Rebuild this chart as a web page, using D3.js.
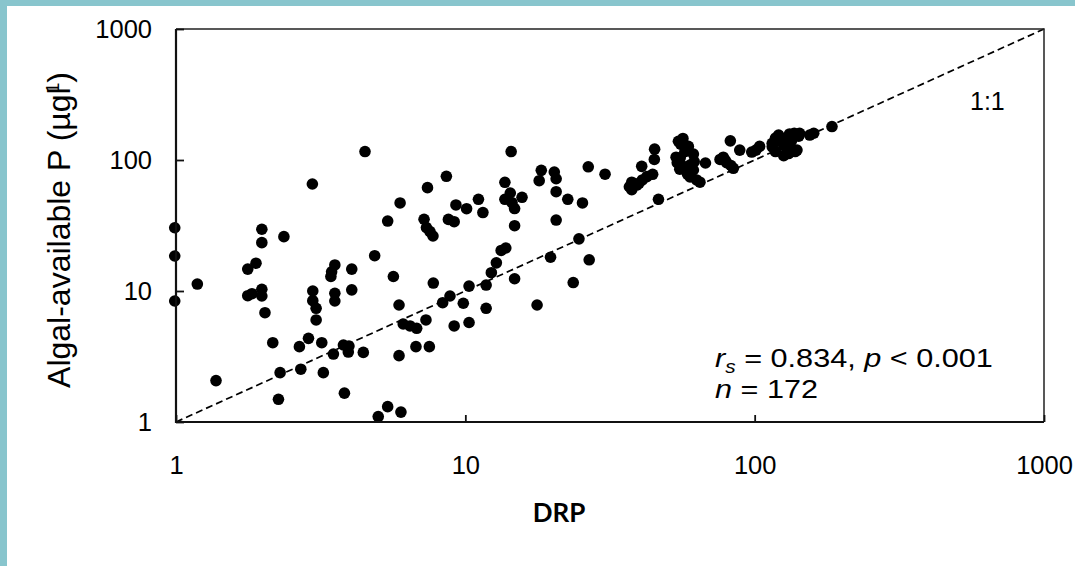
<!DOCTYPE html>
<html>
<head>
<meta charset="utf-8">
<script src="https://d3js.org/d3.v7.min.js"></script>
<style>
  body { margin: 0; background: #fff; }
  svg text { font-family: "Liberation Sans", Arial, sans-serif; fill: #000; }
</style>
</head>
<body>
<div id="chart"></div>
<script>
  // DRP (x) and algal-available P (y) (n = 172)
  var drp = [0.99, 0.99, 0.99, 1.185, 1.375, 1.77, 1.89, 1.98, 1.98, 1.77,
    1.83, 1.98, 1.98, 2.03, 2.36, 2.16, 2.29, 2.26, 2.67, 2.87,
    2.70, 2.97, 2.97, 3.05, 3.05, 3.19, 3.23, 3.50, 3.54, 3.45,
    3.43, 3.54, 3.54, 4.05, 4.05, 3.79, 3.96, 3.94, 4.44, 3.82,
    4.86, 5.39, 5.95, 5.64, 5.90, 5.90, 5.00, 5.39, 5.99, 6.10,
    6.44, 6.79, 6.75, 7.51, 7.31, 7.75, 7.20, 7.34, 7.73, 8.74,
    9.15, 9.28, 10.1, 8.35, 8.85, 9.84, 10.3, 9.15, 10.3, 4.50,
    2.96, 8.60, 7.40, 14.4, 11.1, 11.5, 13.7, 14.3, 13.7, 15.7,
    14.8, 14.8, 18.3, 18.0, 20.3, 20.6, 20.6, 22.6, 25.4, 26.6,
    20.6, 24.7, 26.8, 19.7, 13.8, 13.3, 12.8, 12.3, 14.8, 23.6,
    11.8, 11.8, 17.7, 30.4, 37.6, 37.6, 40.7, 40.9, 44.4, 45.1,
    45.0, 46.5, 54.5, 56.5, 59.0, 53.5, 55.3, 61.4, 61.8, 55.1,
    58.6, 59.8, 64.7, 67.6, 75.9, 80.0, 82.8, 82.4, 88.8, 97.7,
    104, 115, 118, 121, 132, 142, 126, 126, 140, 132,
    137, 160, 185, 39.8, 57.4, 59.8, 54.0, 77.9, 119, 134,
    143, 131, 39.1, 42.4, 60.6, 57.0, 63.0, 115, 138, 127,
    84.4, 7.55, 55.5, 36.9, 118, 129, 79.0, 101, 14.5, 155,
    56.7, 61.4];
  var aap = [30.4, 18.5, 8.39, 11.3, 2.07, 14.7, 16.3, 29.6, 23.4, 9.21,
    9.54, 10.3, 9.16, 6.83, 26.0, 4.03, 2.38, 1.49, 3.76, 4.35,
    2.53, 10.0, 8.43, 7.38, 6.01, 4.03, 2.38, 3.30, 15.8, 14.0,
    12.9, 9.60, 8.39, 14.7, 10.2, 3.87, 3.80, 3.42, 3.40, 1.66,
    18.6, 34.2, 47.0, 12.9, 7.82, 3.21, 1.10, 1.31, 1.19, 5.60,
    5.41, 5.19, 3.76, 3.76, 6.01, 11.5, 35.3, 30.5, 26.3, 35.2,
    33.8, 45.4, 42.5, 8.14, 9.16, 8.06, 10.9, 5.41, 5.75, 116,
    65.6, 75.1, 61.5, 116, 50.1, 39.7, 67.6, 56.0, 50.1, 51.9,
    42.6, 31.5, 83.4, 69.5, 81.0, 71.9, 57.3, 50.1, 47.0, 88.7,
    34.8, 25.0, 17.3, 18.1, 21.3, 20.4, 16.4, 13.8, 12.4, 11.6,
    11.1, 7.38, 7.82, 77.9, 67.7, 59.3, 89.4, 70.4, 77.8, 121,
    101, 50.1, 139, 146, 127, 105, 104, 111, 97.1, 85.1,
    77.9, 74.2, 67.7, 94.9, 101, 95.4, 90.8, 140, 119, 115,
    127, 134, 147, 155, 158, 152, 129, 108, 119, 134,
    160, 160, 180, 66.4, 116, 91.6, 95.3, 105, 140, 140,
    160, 112, 64.4, 74.6, 83.9, 88.9, 70.4, 126, 116, 146,
    86.4, 28.4, 132, 62.5, 116, 142, 100, 119, 47.2, 155,
    88.9, 83.9];
  var tickValues = [1, 10, 100, 1000];
  var oneToOne = [1, 1000];

  var width = 1075, height = 566,
    margin = {top: 29, left: 176, right: 31, bottom: 144};

  var svg = d3.select("#chart").append("svg")
    .attr("width", width).attr("height", height);

  // teal frame on top and left
  svg.append("rect").attr("x", 0).attr("y", 0).attr("width", width).attr("height", 6).attr("fill", "#88c5cd");
  svg.append("rect").attr("x", 0).attr("y", 0).attr("width", 7).attr("height", height).attr("fill", "#88c5cd");

  var x = d3.scaleLog().domain([1, 1000]).range([margin.left, width - margin.right]),
    y = d3.scaleLog().domain([1, 1000]).range([height - margin.bottom, margin.top]);

  var g = svg.append("g");

  // 1:1 line
  g.append("line")
    .attr("x1", x(oneToOne[0])).attr("y1", y(oneToOne[0]))
    .attr("x2", x(oneToOne[1])).attr("y2", y(oneToOne[1]))
    .attr("stroke", "#000").attr("stroke-width", 1.7)
    .attr("stroke-dasharray", "7,4");

  g.selectAll("circle")
    .data(drp)
    .enter()
    .append("circle")
    .attr("cx", function (d) { return x(d); })
    .attr("cy", function (d, i) { return y(aap[i]); })
    .attr("r", 5.8)
    .attr("fill", "#000");

  // plot box: heavier left/bottom, lighter top/right
  var x0 = x(1), x1 = x(1000), y0 = y(1), y1 = y(1000);
  svg.append("path").attr("d", "M" + x0 + "," + y1 + "H" + x1 + "V" + y0)
    .attr("fill", "none").attr("stroke", "#222").attr("stroke-width", 1.5);
  svg.append("path").attr("d", "M" + x0 + "," + y1 + "V" + y0 + "H" + x1)
    .attr("fill", "none").attr("stroke", "#111").attr("stroke-width", 2.2);

  var xAxis = d3.axisBottom(x).tickValues(tickValues).tickSize(-7).tickPadding(-1)
    .tickFormat(d3.format("d"));
  var yAxis = d3.axisLeft(y).tickValues(tickValues).tickSize(-8).tickPadding(24)
    .tickFormat(d3.format("d"));

  var gx = svg.append("g").attr("transform", "translate(0," + y0 + ")").call(xAxis);
  gx.select(".domain").remove();
  gx.selectAll("line").attr("stroke", "#111").attr("stroke-width", 1.8);
  gx.selectAll("text").attr("font-size", 25.5).attr("dy", null).attr("y", 52)
    .style("font-family", "Liberation Sans, Arial, sans-serif");

  var gy = svg.append("g").attr("transform", "translate(" + x0 + ",0)").call(yAxis);
  gy.select(".domain").remove();
  gy.selectAll("line").attr("stroke", "#111").attr("stroke-width", 1.8);
  gy.selectAll("text").attr("font-size", 25.5)
    .style("font-family", "Liberation Sans, Arial, sans-serif");

  // axis titles
  svg.append("text")
    .attr("x", 559).attr("y", 522)
    .attr("text-anchor", "middle")
    .style("font-family", "Lato, 'Open Sans', sans-serif")
    .style("font-weight", "bold")
    .style("font-size", "26px")
    .text("DRP");

  var yl = svg.append("text")
    .attr("transform", "translate(70,230) rotate(-90)")
    .attr("text-anchor", "middle")
    .style("font-size", "32px");
  yl.append("tspan").text("Algal-available P (µgl");
  yl.append("tspan").attr("dy", -11).attr("dx", -6).style("font-size", "19px").text("1");
  yl.append("tspan").attr("dy", 11).text(")");

  // annotations
  svg.append("text").attr("x", 970).attr("y", 110).style("font-size", "25px").text("1:1");

  // stats text, stretched a little to the reference's wider set
  function fitWidth(sel, left, base, target) {
    var w = sel.node().getBBox().width;
    sel.attr("transform", "translate(" + left + "," + base + ") scale(" + (target / w) + ",1)");
  }

  var st = svg.append("text").style("font-size", "26.5px");
  st.append("tspan").style("font-style", "italic").text("r");
  st.append("tspan").attr("dy", 6).style("font-style", "italic").style("font-size", "18px").text("s");
  st.append("tspan").attr("dy", -6).text(" = 0.834, ");
  st.append("tspan").style("font-style", "italic").text("p");
  st.append("tspan").text(" < 0.001");
  fitWidth(st, 715, 367, 278);

  var nt = svg.append("text").style("font-size", "26.5px");
  nt.append("tspan").style("font-style", "italic").text("n");
  nt.append("tspan").text(" = 172");
  fitWidth(nt, 715, 398, 103);
</script>
</body>
</html>
